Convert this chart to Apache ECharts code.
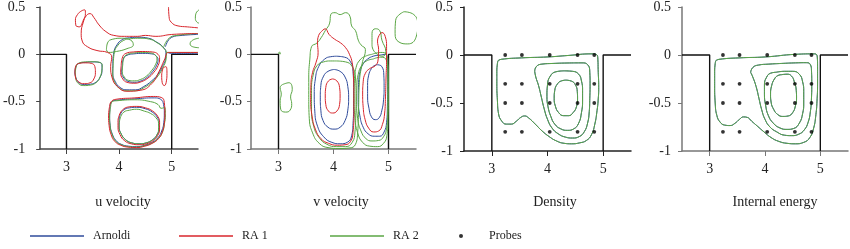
<!DOCTYPE html>
<html>
<head>
<meta charset="utf-8">
<script src="https://cdn.jsdelivr.net/npm/echarts@6/dist/echarts.min.js"></script>
<style>
  html, body { margin: 0; padding: 0; background: #fff; }
  #main { width: 850px; height: 249px; }
</style>
</head>
<body>
<div id="main"></div>
<script>
// ticks and labels
const xTicks = [3, 4, 5];
const yTicks = [-1, -0.5, 0, 0.5];
const panelTitles = ['u velocity', 'v velocity', 'Density', 'Internal energy'];

// cavity outline (data units)
const cavityLeft = [[2.5, 0], [3, 0], [3, -1]];
const cavityRight = [[5, -1], [5, 0], [5.5, 0]];

// probe locations
const probeX = [3.24, 3.54, 4.04, 4.54, 4.84];
const probeY = [0, -0.3, -0.5, -0.8];

// u velocity contours
const uArnoldi = [
  [[3.16,-0.19],[3.18,-0.13],[3.24,-0.095],[3.35,-0.085],[3.50,-0.08],[3.62,-0.085],[3.675,-0.11],[3.675,-0.17],[3.64,-0.24],[3.57,-0.29],[3.46,-0.315],[3.34,-0.32],[3.24,-0.30],[3.18,-0.25],[3.16,-0.19]],
  [[4.06,-0.12],[4.08,-0.05],[4.15,-0.01],[4.28,0.005],[4.45,0.01],[4.62,0.005],[4.71,-0.02],[4.74,-0.06],[4.71,-0.12],[4.64,-0.18],[4.54,-0.24],[4.42,-0.28],[4.29,-0.295],[4.17,-0.285],[4.09,-0.25],[4.05,-0.19],[4.06,-0.12]],
  [[3.88,-0.10],[3.90,0.02],[3.96,0.10],[4.06,0.155],[4.20,0.175],[4.38,0.18],[4.56,0.17],[4.71,0.13],[4.83,0.08],[4.89,0.02],[4.88,-0.05],[4.82,-0.13],[4.74,-0.21],[4.62,-0.28],[4.47,-0.34],[4.31,-0.375],[4.15,-0.375],[4.02,-0.35],[3.93,-0.29],[3.88,-0.20],[3.88,-0.10]],
  [[3.83,-0.55],[3.86,-0.50],[3.95,-0.485],[4.30,-0.47],[4.67,-0.46],[4.79,-0.475],[4.845,-0.53],[4.86,-0.62],[4.85,-0.72],[4.81,-0.81],[4.74,-0.88],[4.63,-0.93],[4.49,-0.96],[4.33,-0.975],[4.18,-0.97],[4.04,-0.95],[3.94,-0.91],[3.87,-0.84],[3.83,-0.75],[3.82,-0.65],[3.83,-0.55]],
  [[4.02,-0.64],[4.08,-0.59],[4.20,-0.565],[4.33,-0.56],[4.50,-0.575],[4.63,-0.61],[4.72,-0.66],[4.76,-0.72],[4.76,-0.78],[4.72,-0.85],[4.64,-0.90],[4.52,-0.935],[4.38,-0.945],[4.24,-0.935],[4.12,-0.90],[4.04,-0.84],[4.00,-0.76],[4.00,-0.69],[4.02,-0.64]],
  [[4.88,0.08],[5.00,0.18],[5.20,0.20],[5.50,0.21]],
  [[4.92,0.02],[5.00,0.01],[5.50,0.01]]
];
const uRA1 = [
  [[3.18,0.30],[3.17,0.36],[3.21,0.42],[3.29,0.46],[3.35,0.47],[3.36,0.43],[3.32,0.36],[3.24,0.29],[3.18,0.30]],
  [[5.50,0.22],[5.00,0.21],[4.70,0.19],[4.50,0.20],[4.35,0.19],[4.10,0.19],[3.90,0.20],[3.75,0.24],[3.62,0.31],[3.52,0.39],[3.45,0.43],[3.38,0.41],[3.32,0.34],[3.28,0.22],[3.30,0.14],[3.40,0.08],[3.58,0.04],[3.78,0.02],[3.86,-0.03],[3.84,-0.13],[3.87,-0.25],[3.97,-0.34],[4.15,-0.39],[4.40,-0.38],[4.62,-0.31],[4.76,-0.18],[4.86,-0.06],[4.94,0.02],[5.05,0.02],[5.50,0.02]],
  [[4.94,0.50],[4.95,0.40],[4.99,0.34],[5.12,0.30],[5.30,0.29],[5.50,0.28]],
  [[3.16,-0.18],[3.18,-0.12],[3.25,-0.095],[3.36,-0.09],[3.47,-0.095],[3.54,-0.13],[3.55,-0.19],[3.52,-0.26],[3.45,-0.30],[3.34,-0.31],[3.23,-0.29],[3.17,-0.24],[3.16,-0.18]],
  [[4.04,-0.12],[4.06,-0.04],[4.13,0.01],[4.27,0.025],[4.45,0.03],[4.63,0.025],[4.74,0.0],[4.77,-0.05],[4.74,-0.12],[4.66,-0.19],[4.55,-0.25],[4.42,-0.29],[4.28,-0.305],[4.15,-0.295],[4.07,-0.26],[4.03,-0.19],[4.04,-0.12]],
  [[4.84,-0.14],[4.89,-0.13],[4.91,-0.20],[4.90,-0.28],[4.86,-0.33],[4.82,-0.30],[4.81,-0.22],[4.84,-0.14]],
  [[3.82,-0.55],[3.85,-0.50],[3.94,-0.475],[4.30,-0.46],[4.65,-0.445],[4.80,-0.455],[4.86,-0.51],[4.87,-0.62],[4.86,-0.73],[4.82,-0.82],[4.75,-0.89],[4.63,-0.94],[4.49,-0.97],[4.33,-0.985],[4.17,-0.98],[4.03,-0.96],[3.92,-0.92],[3.85,-0.85],[3.81,-0.75],[3.80,-0.65],[3.82,-0.55]],
  [[4.00,-0.65],[4.06,-0.59],[4.19,-0.555],[4.33,-0.55],[4.50,-0.565],[4.64,-0.60],[4.74,-0.66],[4.77,-0.72],[4.77,-0.79],[4.73,-0.86],[4.65,-0.91],[4.52,-0.945],[4.38,-0.955],[4.23,-0.945],[4.10,-0.91],[4.02,-0.85],[3.98,-0.77],[3.98,-0.70],[4.00,-0.65]]
];
const uRA2 = [
  [[3.76,0.05],[3.78,0.12],[3.88,0.16],[4.05,0.17],[4.22,0.15],[4.27,0.10],[4.15,0.06],[3.95,0.03],[3.80,0.02],[3.76,0.05]],
  [[3.17,-0.19],[3.19,-0.12],[3.25,-0.09],[3.36,-0.08],[3.51,-0.078],[3.63,-0.085],[3.68,-0.12],[3.67,-0.18],[3.63,-0.25],[3.56,-0.30],[3.45,-0.325],[3.33,-0.33],[3.23,-0.31],[3.18,-0.26],[3.17,-0.19]],
  [[4.07,-0.11],[4.09,-0.04],[4.16,0.0],[4.29,0.015],[4.45,0.02],[4.60,0.015],[4.69,-0.01],[4.72,-0.05],[4.69,-0.11],[4.62,-0.17],[4.52,-0.23],[4.41,-0.265],[4.29,-0.28],[4.18,-0.275],[4.10,-0.24],[4.06,-0.18],[4.07,-0.11]],
  [[3.89,-0.10],[3.91,0.02],[3.97,0.09],[4.08,0.145],[4.22,0.165],[4.40,0.17],[4.58,0.16],[4.73,0.12],[4.84,0.07],[4.90,0.01],[4.89,-0.06],[4.83,-0.14],[4.75,-0.22],[4.63,-0.29],[4.48,-0.35],[4.31,-0.385],[4.15,-0.385],[4.01,-0.36],[3.92,-0.30],[3.88,-0.21],[3.89,-0.10]],
  [[3.84,-0.55],[3.87,-0.50],[3.96,-0.49],[4.30,-0.48],[4.60,-0.50],[4.74,-0.53],[4.80,-0.57],[4.87,-0.56],[4.88,-0.64],[4.86,-0.74],[4.82,-0.83],[4.74,-0.89],[4.62,-0.94],[4.48,-0.965],[4.33,-0.98],[4.18,-0.975],[4.04,-0.955],[3.94,-0.92],[3.87,-0.85],[3.83,-0.76],[3.82,-0.66],[3.84,-0.55]],
  [[4.03,-0.66],[4.09,-0.61],[4.20,-0.59],[4.33,-0.58],[4.48,-0.60],[4.60,-0.625],[4.70,-0.67],[4.75,-0.73],[4.75,-0.79],[4.71,-0.86],[4.63,-0.905],[4.51,-0.935],[4.38,-0.945],[4.24,-0.935],[4.12,-0.90],[4.04,-0.84],[4.00,-0.77],[4.01,-0.70],[4.03,-0.66]],
  [[5.52,0.47],[5.46,0.43],[5.45,0.38],[5.48,0.34],[5.52,0.33]],
  [[5.52,0.17],[5.40,0.15],[5.35,0.11],[5.40,0.08],[5.52,0.07]],
  [[4.85,0.08],[4.95,0.17],[5.10,0.20],[5.50,0.22]],
  [[4.90,0.02],[5.50,0.02]]
];

// v velocity contours
const vArnoldi = [
  [[4.01,-0.16],[4.12,-0.18],[4.21,-0.24],[4.26,-0.34],[4.275,-0.46],[4.26,-0.59],[4.21,-0.70],[4.12,-0.77],[4.01,-0.79],[3.90,-0.77],[3.81,-0.70],[3.77,-0.59],[3.76,-0.46],[3.77,-0.33],[3.82,-0.23],[3.90,-0.18],[4.01,-0.16]],
  [[4.05,-0.02],[4.20,-0.03],[4.31,-0.08],[4.355,-0.18],[4.365,-0.35],[4.365,-0.55],[4.355,-0.73],[4.33,-0.86],[4.25,-0.93],[4.12,-0.945],[3.97,-0.93],[3.82,-0.87],[3.71,-0.76],[3.66,-0.60],[3.65,-0.42],[3.67,-0.26],[3.73,-0.13],[3.84,-0.05],[3.95,-0.025],[4.05,-0.02]],
  [[4.80,-0.11],[4.88,-0.13],[4.915,-0.22],[4.92,-0.35],[4.91,-0.48],[4.88,-0.59],[4.83,-0.67],[4.76,-0.69],[4.69,-0.66],[4.645,-0.57],[4.62,-0.45],[4.62,-0.33],[4.64,-0.22],[4.69,-0.15],[4.74,-0.12],[4.80,-0.11]],
  [[4.82,-0.01],[4.95,0.0],[4.98,-0.10],[4.985,-0.30],[4.98,-0.55],[4.965,-0.72],[4.92,-0.82],[4.84,-0.865],[4.74,-0.865],[4.63,-0.84],[4.54,-0.77],[4.48,-0.65],[4.45,-0.48],[4.455,-0.32],[4.48,-0.19],[4.54,-0.10],[4.62,-0.05],[4.72,-0.02],[4.82,-0.01]]
];
const vRA1 = [
  [[3.985,-0.26],[4.06,-0.28],[4.11,-0.35],[4.12,-0.44],[4.11,-0.53],[4.06,-0.60],[3.985,-0.62],[3.91,-0.60],[3.86,-0.53],[3.85,-0.44],[3.86,-0.35],[3.91,-0.28],[3.985,-0.26]],
  [[3.78,0.24],[3.85,0.27],[3.92,0.21],[4.02,0.16],[4.13,0.12],[4.22,0.07],[4.29,0.0],[4.34,-0.09],[4.365,-0.25],[4.37,-0.45],[4.37,-0.65],[4.355,-0.82],[4.31,-0.92],[4.21,-0.955],[4.07,-0.96],[3.91,-0.94],[3.77,-0.89],[3.67,-0.79],[3.61,-0.65],[3.585,-0.48],[3.59,-0.32],[3.62,-0.19],[3.68,-0.09],[3.72,0.02],[3.71,0.12],[3.73,0.20],[3.78,0.24]],
  [[4.83,0.20],[4.88,0.23],[4.94,0.19],[4.965,0.08],[4.965,-0.05],[4.955,-0.25],[4.945,-0.45],[4.93,-0.62],[4.89,-0.74],[4.82,-0.81],[4.73,-0.82],[4.64,-0.78],[4.575,-0.69],[4.54,-0.56],[4.53,-0.42],[4.54,-0.29],[4.58,-0.20],[4.66,-0.15],[4.76,-0.12],[4.81,-0.06],[4.82,0.05],[4.80,0.14],[4.83,0.20]]
];
const vRA2 = [
  [[4.05,-0.07],[4.22,-0.08],[4.34,-0.13],[4.40,-0.25],[4.41,-0.45],[4.405,-0.65],[4.39,-0.82],[4.34,-0.93],[4.22,-0.975],[4.05,-0.975],[3.88,-0.95],[3.74,-0.88],[3.64,-0.76],[3.60,-0.58],[3.60,-0.38],[3.63,-0.22],[3.70,-0.12],[3.82,-0.08],[3.95,-0.07],[4.05,-0.07]],
  [[3.55,-0.50],[3.55,-0.25],[3.57,-0.05],[3.60,0.08],[3.70,0.12],[3.78,0.18],[3.85,0.25],[3.93,0.33],[3.95,0.42],[4.03,0.44],[4.12,0.42],[4.22,0.44],[4.30,0.40],[4.33,0.30],[4.40,0.25],[4.45,0.15],[4.50,0.10],[4.58,0.05],[4.52,-0.10],[4.47,-0.30],[4.455,-0.60],[4.44,-0.82],[4.40,-0.95],[4.28,-0.99],[4.10,-0.995],[3.90,-0.985],[3.74,-0.94],[3.62,-0.83],[3.56,-0.68],[3.55,-0.50]],
  [[4.72,-0.05],[4.86,-0.03],[4.96,-0.06],[4.99,-0.18],[4.99,-0.40],[4.985,-0.62],[4.965,-0.78],[4.91,-0.87],[4.82,-0.91],[4.70,-0.915],[4.59,-0.89],[4.50,-0.81],[4.44,-0.68],[4.42,-0.50],[4.425,-0.33],[4.45,-0.21],[4.51,-0.12],[4.60,-0.07],[4.72,-0.05]],
  [[4.70,0.0],[4.86,0.02],[4.96,0.0],[4.99,-0.10],[4.995,-0.40],[4.99,-0.70],[4.97,-0.86],[4.91,-0.94],[4.80,-0.975],[4.66,-0.97],[4.53,-0.93],[4.44,-0.83],[4.39,-0.67],[4.375,-0.47],[4.38,-0.28],[4.41,-0.14],[4.48,-0.06],[4.58,-0.02],[4.70,0.0]],
  [[4.70,0.10],[4.70,0.22],[4.76,0.27],[4.84,0.25],[4.88,0.15],[4.95,0.03],[4.90,-0.02],[4.80,0.00],[4.72,0.05],[4.70,0.10]],
  [[5.28,0.45],[5.46,0.42],[5.53,0.31],[5.50,0.18],[5.35,0.11],[5.19,0.13],[5.12,0.22],[5.13,0.36],[5.28,0.45]],
  [[3.07,-0.32],[3.19,-0.30],[3.25,-0.37],[3.22,-0.45],[3.24,-0.52],[3.21,-0.59],[3.13,-0.61],[3.04,-0.58],[3.03,-0.49],[3.05,-0.42],[3.03,-0.35],[3.07,-0.32]],
  [[3.00,0.01],[3.02,0.025],[3.035,0.005],[3.00,0.01]]
];

// density contours
const densityLines = [
  [[3.11,-0.06],[3.17,-0.045],[3.53,-0.03],[4.01,-0.02],[4.37,-0.005],[4.80,0.012],[4.88,0.005],[4.905,-0.05],[4.91,-0.15],[4.92,-0.34],[4.91,-0.47],[4.89,-0.58],[4.85,-0.72],[4.79,-0.83],[4.70,-0.89],[4.58,-0.915],[4.43,-0.925],[4.30,-0.92],[4.16,-0.895],[4.03,-0.85],[3.90,-0.79],[3.78,-0.72],[3.66,-0.655],[3.59,-0.635],[3.52,-0.65],[3.44,-0.69],[3.35,-0.72],[3.26,-0.72],[3.18,-0.69],[3.12,-0.61],[3.10,-0.47],[3.09,-0.30],[3.09,-0.17],[3.10,-0.09],[3.11,-0.06]],
  [[3.77,-0.17],[3.80,-0.12],[3.90,-0.095],[4.10,-0.088],[4.40,-0.083],[4.62,-0.082],[4.72,-0.10],[4.76,-0.18],[4.765,-0.30],[4.76,-0.45],[4.75,-0.59],[4.72,-0.71],[4.66,-0.80],[4.57,-0.85],[4.45,-0.865],[4.32,-0.855],[4.19,-0.82],[4.08,-0.76],[4.00,-0.67],[3.94,-0.56],[3.89,-0.44],[3.84,-0.32],[3.79,-0.23],[3.77,-0.17]],
  [[4.30,-0.165],[4.45,-0.17],[4.56,-0.20],[4.61,-0.27],[4.63,-0.37],[4.63,-0.48],[4.61,-0.60],[4.56,-0.71],[4.47,-0.77],[4.36,-0.785],[4.24,-0.77],[4.13,-0.72],[4.06,-0.64],[4.01,-0.54],[3.99,-0.43],[4.00,-0.31],[4.05,-0.22],[4.15,-0.175],[4.30,-0.165]],
  [[4.33,-0.262],[4.43,-0.272],[4.50,-0.31],[4.535,-0.38],[4.54,-0.46],[4.52,-0.54],[4.46,-0.60],[4.38,-0.632],[4.29,-0.632],[4.20,-0.60],[4.14,-0.53],[4.12,-0.45],[4.13,-0.37],[4.18,-0.30],[4.25,-0.27],[4.33,-0.262]]
];

// internal energy contours
const energyLines = [
  [[3.11,-0.06],[3.17,-0.045],[3.53,-0.03],[4.01,-0.02],[4.55,0.007],[4.90,0.012],[4.945,-0.02],[4.95,-0.12],[4.95,-0.30],[4.94,-0.48],[4.92,-0.62],[4.88,-0.76],[4.81,-0.86],[4.70,-0.91],[4.55,-0.925],[4.40,-0.92],[4.25,-0.90],[4.11,-0.86],[3.98,-0.80],[3.86,-0.74],[3.76,-0.69],[3.68,-0.65],[3.61,-0.645],[3.54,-0.67],[3.46,-0.71],[3.37,-0.735],[3.27,-0.73],[3.19,-0.70],[3.13,-0.63],[3.10,-0.50],[3.09,-0.32],[3.09,-0.17],[3.10,-0.09],[3.11,-0.06]],
  [[3.74,-0.18],[3.78,-0.13],[3.88,-0.105],[4.07,-0.095],[4.30,-0.088],[4.55,-0.082],[4.75,-0.08],[4.82,-0.10],[4.84,-0.16],[4.845,-0.30],[4.84,-0.45],[4.82,-0.59],[4.78,-0.70],[4.71,-0.78],[4.61,-0.825],[4.48,-0.84],[4.35,-0.835],[4.21,-0.80],[4.09,-0.75],[4.00,-0.67],[3.94,-0.57],[3.89,-0.45],[3.84,-0.33],[3.78,-0.23],[3.74,-0.18]],
  [[4.20,-0.18],[4.35,-0.17],[4.50,-0.17],[4.62,-0.20],[4.68,-0.28],[4.70,-0.38],[4.70,-0.50],[4.68,-0.61],[4.62,-0.71],[4.52,-0.765],[4.40,-0.775],[4.27,-0.76],[4.15,-0.71],[4.06,-0.63],[4.01,-0.52],[3.99,-0.41],[3.99,-0.31],[4.03,-0.23],[4.10,-0.19],[4.20,-0.18]],
  [[4.30,-0.205],[4.40,-0.20],[4.48,-0.22],[4.53,-0.28],[4.565,-0.37],[4.57,-0.45],[4.55,-0.53],[4.50,-0.60],[4.42,-0.635],[4.32,-0.64],[4.23,-0.62],[4.16,-0.57],[4.11,-0.49],[4.10,-0.41],[4.12,-0.32],[4.17,-0.25],[4.23,-0.215],[4.30,-0.205]]
];

const colors = { 'Arnoldi': '#2f4b9b', 'RA 1': '#d8262c', 'RA 2': '#5aa644' };
const serif = 'Liberation Serif';
const axisColors = ['#444', '#777', '#222', '#777'];
const grids = [
  { left: 33, top: 4, width: 165, height: 145 },
  { left: 251, top: 4, width: 165, height: 145 },
  { left: 464, top: 6, width: 167, height: 145 },
  { left: 682, top: 6, width: 166, height: 145 }
];
const yLabelMargins = [15, 9, 11, 11];
const titleCenters = [118, 336, 550, 770];

const series = [];
function addContours(lines, name, gi) {
  lines.forEach(function (pts) {
    series.push({
      type: 'line', name: name, data: pts,
      xAxisIndex: gi, yAxisIndex: gi,
      symbol: 'none', smooth: 0.5, silent: true,
      lineStyle: { color: colors[name], width: 1 },
      itemStyle: { color: colors[name] }
    });
  });
}
grids.forEach(function (g, gi) {
  [cavityLeft, cavityRight].forEach(function (pts) {
    series.push({
      type: 'line', data: pts, xAxisIndex: gi, yAxisIndex: gi,
      symbol: 'none', silent: true, z: 1,
      lineStyle: { color: '#111', width: 1.4 }
    });
  });
});
addContours(uArnoldi, 'Arnoldi', 0);
addContours(uRA2, 'RA 2', 0);
addContours(uRA1, 'RA 1', 0);
addContours(vArnoldi, 'Arnoldi', 1);
addContours(vRA2, 'RA 2', 1);
addContours(vRA1, 'RA 1', 1);
addContours(densityLines, 'Arnoldi', 2);
addContours(densityLines, 'RA 2', 2);
addContours(energyLines, 'Arnoldi', 3);
addContours(energyLines, 'RA 2', 3);

const probes = [];
probeY.forEach(function (y) { probeX.forEach(function (x) { probes.push([x, y]); }); });
[2, 3].forEach(function (gi) {
  series.push({
    type: 'scatter', name: 'Probes', data: probes,
    xAxisIndex: gi, yAxisIndex: gi, symbolSize: 3.8, silent: true, z: 5,
    itemStyle: { color: '#000' }
  });
});

const labelStyle = { fontFamily: serif, fontSize: 14, color: '#222' };
const chart = echarts.init(document.getElementById('main'), null, { renderer: 'canvas' });
chart.setOption({
  animation: false,
  backgroundColor: '#fff',
  grid: grids,
  title: panelTitles.map(function (t, i) {
    return {
      text: t, left: titleCenters[i], top: 190, textAlign: 'center',
      textStyle: { fontFamily: serif, fontSize: 14, fontWeight: 'normal', color: '#222' }
    };
  }),
  xAxis: grids.map(function (g, i) {
    return {
      type: 'value', gridIndex: i, min: 2.5, max: 5.5, interval: 0.5,
      splitLine: { show: false },
      axisLine: { show: true, onZero: false, lineStyle: { color: axisColors[i], width: 1.5 } },
      axisTick: { show: true, length: 5, customValues: xTicks, lineStyle: { color: axisColors[i] } },
      axisLabel: Object.assign({ customValues: xTicks, margin: 11 }, labelStyle)
    };
  }),
  yAxis: grids.map(function (g, i) {
    return {
      type: 'value', gridIndex: i, min: -1, max: 0.5, interval: 0.5,
      splitLine: { show: false },
      axisLine: { show: true, onZero: false, lineStyle: { color: axisColors[i], width: 1.5 } },
      axisTick: { show: true, length: 4, lineStyle: { color: axisColors[i] } },
      axisLabel: Object.assign({ margin: yLabelMargins[i] }, labelStyle)
    };
  }),
  legend: [
    { name: 'Arnoldi', left: 30, icon: 'rect', w: 54, h: 1.5, pad: 4 },
    { name: 'RA 1', left: 179, icon: 'rect', w: 54, h: 1.5, pad: 4 },
    { name: 'RA 2', left: 330, icon: 'rect', w: 54, h: 1.5, pad: 4 },
    { name: 'Probes', left: 459, icon: 'circle', w: 4, h: 4, pad: 21 }
  ].map(function (l) {
    return {
      data: [l.name], left: l.left, top: 230, icon: l.icon, padding: 0,
      itemWidth: l.w, itemHeight: l.h, selectedMode: false,
      textStyle: { fontFamily: serif, fontSize: 12, color: '#222', padding: [0, 0, 0, l.pad] }
    };
  }),
  series: series
});
</script>
</body>
</html>
